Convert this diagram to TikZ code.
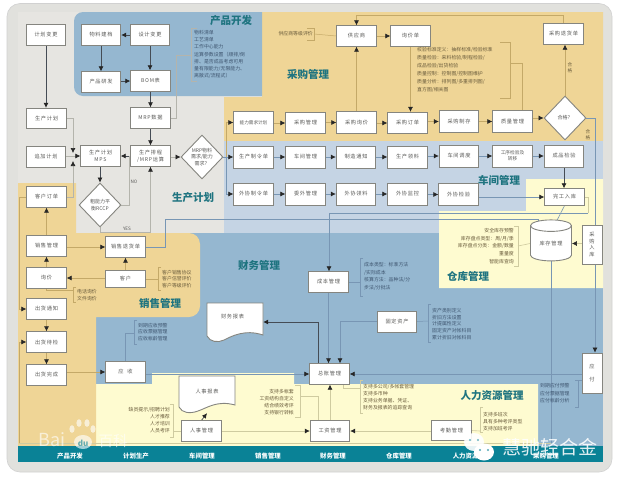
\documentclass[tikz,border=0pt]{standalone}
\usepackage{fontspec}
\usetikzlibrary{arrows.meta,shapes.geometric}
\setmainfont{Noto Sans CJK SC}
\newfontfamily\trk[LetterSpace=14]{Noto Sans CJK SC}
\definecolor{panel}{HTML}{E1E1DD}
\definecolor{gry}{HTML}{E6E5E1}
\definecolor{org}{HTML}{EFD596}
\definecolor{blu}{HTML}{95B7D0}
\definecolor{lbl}{HTML}{C5D4E4}
\definecolor{yel}{HTML}{FEFBD0}
\definecolor{teal}{HTML}{0A8296}
\definecolor{ttl}{HTML}{1F7480}
\definecolor{lno}{HTML}{C4A968}
\definecolor{lng}{HTML}{B4B4AC}
\definecolor{lnb}{HTML}{7896B4}
\definecolor{lny}{HTML}{CFCBA0}
\definecolor{dkl}{HTML}{454C55}
\definecolor{nbd}{HTML}{85857F}
\definecolor{txt}{HTML}{5A5A58}
\definecolor{ntx}{HTML}{6A5C3C}
\definecolor{nbt}{HTML}{3F5670}
\pgfdeclarelayer{bg}\pgfdeclarelayer{lines}
\pgfsetlayers{bg,lines,main}
\tikzset{
  bx/.style={draw=nbd,line width=.9pt,fill=white,minimum width=39.5pt,minimum height=20.5pt,inner sep=0pt,align=center,text=txt,font=\trk\fontsize{5.2}{6.6}\selectfont},
  dia/.style={diamond,draw=nbd,line width=.9pt,fill=white,aspect=1,minimum width=42pt,minimum height=44pt,inner sep=0pt,align=center,text=txt,font=\fontsize{5}{6.6}\selectfont},
  ttlf/.style={text=ttl,font=\bfseries\fontsize{10.5}{12}\selectfont,inner sep=0pt},
  band/.style={text=white,font=\bfseries\fontsize{6.4}{8}\selectfont,inner sep=0pt},
  note/.style={text=ntx,inner sep=0pt,font=\fontsize{4.9}{7.2}\selectfont},
  notel/.style={note,align=left,anchor=west},
  noter/.style={note,align=right,anchor=east},
  tip/.style={-{Latex[length=5pt,width=5pt,color=black!85]}},
  dk/.style={draw=dkl,line width=.7pt,tip},
  lo/.style={draw=lno,line width=.6pt,tip},
  lg/.style={draw=lng,line width=.6pt,tip},
  lb/.style={draw=lnb,line width=.6pt,tip},
  ly/.style={draw=lny,line width=.6pt,tip},
  bo/.style={draw=lno,line width=.5pt},
  bg/.style={draw=lng,line width=.5pt},
  bb/.style={draw=lnb,line width=.5pt},
  by/.style={draw=lny,line width=.6pt},
}
\begin{document}
\begin{tikzpicture}[x=1pt,y=-1pt]
\useasboundingbox (0,0) rectangle (620,480);
\begin{pgfonlayer}{bg}
\fill[white] (0,0) rectangle (620,480);
\fill[panel,draw=black!18,line width=.6pt,rounded corners=13pt] (7,3.5) rectangle (612,472);
\fill[gry] (18,12) rectangle (603,446);
\fill[org] (262,12) -- (603,12) -- (603,141) -- (224,141) -- (224,97) -- (262,97) -- cycle;
\fill[blu] (262,12) -- (262,96) [rounded corners=9pt] -- (74,96) -- (74,12) [sharp corners] -- cycle;
\fill[lbl] (224,141) rectangle (603,233);
\fill[blu] (190,233) rectangle (603,446);
\fill[blu] (96,300) rectangle (200,446);
\fill[yel] (526,179) -- (603,179) -- (603,288) -- (439,288) -- (439,211) -- (526,211) -- cycle;
\fill[yel] (96,384) -- (152,384) -- (152,373) -- (294,373) -- (294,384) -- (538,384) -- (538,446) -- (96,446) -- cycle;
\fill[org] (18,183) -- (76,183) -- (76,233) [rounded corners=11pt] -- (200,233) -- (200,317) [sharp corners] -- (96,317) -- (96,446) -- (18,446) -- cycle;
\fill[teal] (18,446) rectangle (603,462);
\end{pgfonlayer}
% titles
\node[ttlf] (t1) at (231,21) {产品开发};
\node[ttlf] (t2) at (308,74) {采购管理};
\node[ttlf] (t3) at (193,198) {生产计划};
\node[ttlf] (t4) at (499,180) {车间管理};
\node[ttlf] (t5) at (259,265) {财务管理};
\node[ttlf] (t6) at (160,303) {销售管理};
\node[ttlf] (t7) at (468,276) {仓库管理};
\node[ttlf] (t8) at (492,395) {人力资源管理};
% bottom band
\node[band] (b1) at (70,456) {产品开发};
\node[band] (b2) at (136,456) {计划生产};
\node[band] (b3) at (202,456) {车间管理};
\node[band] (b4) at (268,456) {销售管理};
\node[band] (b5) at (333,456) {财务管理};
\node[band] (b6) at (399,456) {仓库管理};
\node[band] (b7) at (472,456) {人力资源管理};
\node[band] (b8) at (546,456) {采购管理};
% nodes
\node[bx] (jhbg) at (46,35) {计划变更};
\node[bx] (wljd) at (101,35) {物料建档};
\node[bx] (sjbg) at (150,35) {设计变更};
\node[bx] (cpyf) at (101,82) {产品研发};
\node[bx] (bom) at (150.5,81) {BOM表};
\node[bx] (mrp) at (150.5,118) {MRP数据};
\node[bx] (scjh) at (46.5,118.5) {生产计划};
\node[bx] (zjjh) at (46,157) {追加计划};
\node[bx] (mps) at (100.5,156) {生产计划\\MPS};
\node[bx] (pc) at (150.5,156) {生产排程\\/MRP运算};
\node[dia] (dmrp) at (202,157) {MRP物料\\需求/能力\\需求？};
\node[dia] (drccp) at (100,205) {粗能力平\\衡RCCP};
\node[bx] (khdd) at (46.5,197) {客户订单};
\node[bx] (xsgl) at (46.5,246) {销售管理};
\node[bx] (xsth) at (125.5,247) {销售退货单};
\node[bx] (xj) at (46.5,278) {询价};
\node[bx,minimum height=16.5pt] (kh) at (125.5,279) {客户};
\node[bx] (chtz) at (46.5,309) {出货通知};
\node[bx] (chdj) at (46.5,342) {出货待检};
\node[bx] (chwc) at (46.5,375) {出货完成};
\node[bx] (ys) at (125.5,372) {应\ \ 收};
\node[bx,minimum height=21.5pt,font=\fontsize{4.6}{6}\selectfont] (nlxq) at (253.5,122.5) {能力需求计划};
\node[bx,minimum height=21.5pt] (cggl) at (305.5,123) {采购管理};
\node[bx,minimum height=21.5pt] (cgxj) at (356.5,122.5) {采购询价};
\node[bx,minimum height=21.5pt] (cgdd) at (407.5,123) {采购订单};
\node[bx,minimum height=21.5pt] (cgzc) at (459,121.5) {采购制存};
\node[bx,minimum height=21.5pt] (zlgl) at (512.5,121.5) {质量管理};
\node[dia] (dhg) at (565,118) {合格？};
\node[bx,minimum height=22pt] (sczl) at (253.5,157) {生产制令单};
\node[bx,minimum height=22pt] (cjgl) at (305.5,157) {车间管理};
\node[bx,minimum height=22pt] (zztz) at (356,157) {制造通知};
\node[bx,minimum height=22pt] (scll) at (407.5,157) {生产领料};
\node[bx,minimum height=22pt] (cjdd) at (459,156) {车间调度};
\node[bx,minimum height=22pt,font=\fontsize{4.7}{5.8}\selectfont] (gxjy) at (512.5,156) {工序检验及\\转移};
\node[bx,minimum height=22pt] (cpjy) at (564,156) {成品检验};
\node[bx,minimum height=22pt] (wxzl) at (253.5,194) {外协制令单};
\node[bx,minimum height=22pt] (wwgl) at (305.5,194) {委外管理};
\node[bx,minimum height=22pt] (wxll) at (356,194) {外协领料};
\node[bx,minimum height=22pt] (wxjk) at (407.5,194) {外协监控};
\node[bx,minimum height=21.5pt] (wxjy) at (458.5,194.5) {外协检验};
\node[bx,minimum height=16.5pt] (wgrk) at (564.5,197) {完工入库};
\node[bx] (gys) at (356.5,36) {供应商};
\node[bx] (xjd) at (410.5,36) {询价单};
\node[bx] (cgth) at (563.5,34) {采购退货单};
\node[cylinder,shape border rotate=90,aspect=.5,draw=nbd,line width=.9pt,fill=white,minimum width=41pt,minimum height=41pt,inner sep=0pt,text=txt,font=\trk\fontsize{5.2}{6.6}\selectfont] (kc) at (551,243.5) {\raisebox{-5pt}{库存管理}};
\node[bx,minimum width=20pt,minimum height=39pt] (cgrk) at (592,244.5) {采\\购\\入\\库};
\node[bx] (cbgl) at (328.5,282) {成本管理};
\node[bx,minimum height=21pt] (gdzc) at (397,321.5) {固定资产};
\node[bx] (zzgl) at (329.5,374) {总账管理};
\node[bx] (rsgl) at (201.5,431) {人事管理};
\node[bx] (gzgl) at (330,431) {工资管理};
\node[bx,minimum height=19.5pt] (kqgl) at (451.5,430.5) {考勤管理};
\node[bx,minimum width=20pt,minimum height=40pt] (yf) at (592,373) {应\\[6pt]付};
% documents
\node[minimum width=56pt,minimum height=39pt,inner sep=0pt] (cwbb) at (235,322.5) {};
\draw[draw=nbd,line width=.9pt,fill=white] (207,303) -- (263,303) -- (263,335) .. controls (245,329) and (232,336) .. (224,340) .. controls (218,343) and (210,342) .. (207,336) -- cycle;
\node[text=txt,inner sep=0pt,font=\trk\fontsize{5.2}{6.6}\selectfont] (cwbbt) at (232.5,317) {财务报表};
\node[minimum width=56pt,minimum height=37pt,inner sep=0pt] (rsbb) at (207,394.5) {};
\draw[draw=nbd,line width=.9pt,fill=white] (179,376) -- (235,376) -- (235,405) .. controls (217,400) and (207,408) .. (198,411) .. controls (190,414) and (182,413) .. (179,407) -- cycle;
\node[text=txt,inner sep=0pt,font=\trk\fontsize{5.2}{6.6}\selectfont] (rsbbt) at (207,392) {人事报表};
% notes
\node[notel,text=nbt] (n1) at (194,54.5) {物料清单\\工艺清单\\工作中心能力\\运算参数设置（顺排/倒\\排、是否成品考虑可用\\量有限能力/无限能力、\\离散式/流程式）};
\node[note,anchor=east] (n2) at (313,34) {供应商等级评价};
\node[notel,font=\fontsize{4.9}{8}\selectfont] (n3) at (417,69.5) {校验标准定义：抽样标准/检验标准\\质量检验：来料检验/制程检验/\\成品检验/出货检验\\质量控制：控制图/控制图维护\\质量分析：排列图/多重排列图/\\直方图/相关图};
\node[notel,font=\fontsize{4.9}{6.6}\selectfont] (n4) at (162,279) {客户销售协议\\客户信誉评价\\客户等级评价};
\node[notel,font=\fontsize{4.9}{7}\selectfont] (n5) at (77,295.5) {电话询价\\文件询价};
\node[notel,text=nbt,font=\fontsize{4.9}{6.6}\selectfont] (n6) at (138,332) {到期应收预警\\应收票据管理\\应收帐龄管理};
\node[noter,font=\fontsize{4.9}{7.6}\selectfont] (n7) at (514,246) {安全库存预警\\库存盘点类型：周/月/季\\库存盘点分类：金额/数量\\重量度\\智能库查询};
\node[notel,text=nbt,font=\fontsize{4.9}{7.6}\selectfont] (n8) at (364,276.5) {成本类型：标准方法\\/实际成本\\核算方法：品种法/分\\步法/分批法};
\node[notel,text=nbt,font=\fontsize{4.9}{6.8}\selectfont] (n9) at (432,324) {资产类别定义\\折旧方法设置\\计提属性定义\\固定资产对帐科目\\累计折旧对帐科目};
\node[notel,font=\fontsize{4.9}{6.8}\selectfont] (n10) at (363,397) {支持多公司/多帐套管理\\支持多币种\\支持业务单据、凭证、\\财务及报表的追踪查询};
\node[noter,font=\fontsize{4.9}{6.8}\selectfont] (n11) at (294,402) {支持多帐套\\工资结构自定义\\结合绩效考评\\支持银行转帐};
\node[noter,font=\fontsize{4.9}{7}\selectfont] (n12) at (170,420.5) {缺员提示/招聘计划\\人才推荐\\人才培训\\人员考评};
\node[notel,font=\fontsize{4.9}{6.8}\selectfont] (n13) at (483,421.5) {支持多班次\\具有多种考评类型\\支持加班考评};
\node[notel,text=nbt,font=\fontsize{4.9}{7.4}\selectfont] (n14) at (540,393.5) {到期应付预警\\应付票据管理\\应付帐龄分析};
\node[note,text=txt,font=\fontsize{4.6}{5.6}\selectfont] (no) at (134,182) {NO};
\node[note,text=txt,font=\fontsize{4.6}{5.6}\selectfont] (yes) at (127,228.5) {YES};
\node[note,align=center,font=\fontsize{4.6}{5.6}\selectfont] (hg1) at (570,68) {合\\格};
\node[note,align=center,font=\fontsize{4.6}{5.6}\selectfont] (hg2) at (588,135) {合\\格};
% helper coordinates
\coordinate (jdu) at (73,153);
\coordinate (jdd) at (73,161);
\coordinate (no1) at (129,156);
\coordinate (yb) at (100,232);
\coordinate (mb) at (176,55);
\coordinate (mb2) at (191,55);
\coordinate (fork) at (226,157);
\coordinate (q1) at (522,63);
\coordinate (top) at (356.5,15);
\coordinate (pay) at (595,118);
\coordinate (c1) at (538,232);
\coordinate (c2) at (551,232);
\coordinate (r1) at (165,219);
\coordinate (r2) at (588,213);
\coordinate (r3) at (329,213);
\coordinate (low) at (551,443);
\coordinate (lowl) at (19,443);
\coordinate (hr1) at (318,396);
\coordinate (gl1) at (318,322);
\coordinate (gl2) at (340,322);
\coordinate (gl3) at (343,388);
\coordinate (ysb) at (125.5,333);
\coordinate (xjb) at (46.5,290);
\begin{pgfonlayer}{lines}
% product development and planning
\draw[dk] (jhbg.south) -- (jhbg.south |- scjh.north);
\draw[dk] (sjbg) -- (wljd);
\draw[dk] (wljd) -- (cpyf);
\draw[dk] (sjbg.south) -- (sjbg.south |- bom.north);
\draw[dk] (cpyf.east |- bom.west) -- (bom.west);
\draw[dk] (bom) -- (mrp);
\draw[dk] (mrp) -- (pc);
\draw[dk] (pc) -- (mps);
\draw[dk] (mps.south -| drccp.north) -- (drccp.north);
\draw[lg] (scjh.east) -| (jdu);
\draw[lg] (zjjh.east |- mps.west) -- (mps.west);
\draw[lg] (khdd.east) -| (jdd);
\draw[bg] (drccp.east) -| (no1);
\draw[lg] (drccp.south) -- (yb) -| (pc.south);
\draw[bg] (mrp.east) -| (mb) -- (mb2);
\draw[bg] (197,28) -- (191,28) -- (191,81) -- (197,81);
\draw[lg] (pc.east |- dmrp.west) -- (dmrp.west);
% fork
\draw[lo] (fork) |- (nlxq.west);
\draw[lb] (fork) |- (wxzl.west);
\draw[lb] (dmrp.east) -- (sczl.west);
% rows: each connector is horizontal, at the height of its target
\foreach \a/\b in {nlxq/cggl,cggl/cgxj,cgxj/cgdd,cgdd/cgzc,cgzc/zlgl,zlgl/dhg,gys/xjd}{\draw[lo] (\a.east |- \b.west) -- (\b.west);}
\foreach \a/\b in {sczl/cjgl,cjgl/zztz,zztz/scll,scll/cjdd,cjdd/gxjy,gxjy/cpjy,wxzl/wwgl,wwgl/wxll,wxll/wxjk,wxjk/wxjy,wxjy/wgrk}{\draw[lb] (\a.east |- \b.west) -- (\b.west);}
\draw[lo] (cgxj) -- (gys);
\draw[lo] (xjd.south) -- (cgdd.north -| xjd);
\draw[bo] (n2.east) ++(1,0) -- (gys.west);
\draw[bo] (307,28) -- (314,28) -- (314,40) -- (307,40);
\draw[bo] (zlgl.north -| q1) -- (q1) -- (510,63);
\draw[bo] (500,42) -- (510,42) -- (510,98) -- (500,98);
\draw[lo] (dhg.north) -- (dhg.north |- cgth.south);
\draw[bo] (cgth.north) |- (top);
\draw[lo] (top) -- (gys.north);
\draw[bb] (dhg.east) -- (pay);
\draw[lb] (pay) -- (yf.north -| pay);
\draw[dk] (cpjy.south) -- (wgrk.north -| cpjy.south);
\draw[by] (wgrk.east) -| (r2);
\draw[lnb,line width=.5pt,tip] (r2) -- (r3) -- (cbgl.north -| r3);
\draw[lnb,line width=.5pt,tip] (xsth.east) -| (r1) -- (538,219) -- (c1);
\draw[lb] (wgrk.south) -- (c2);
\draw[bb] (kc.south) -- (low);
\draw[by] (low) -- (lowl);
\draw[lo] (lowl) |- (chdj.west);
\draw[lo] (khdd.west) -| (19,309) -- (chtz.west);
\draw[bo] (lowl) -- (19,342);
\draw[ly] (cgrk.west |- kc.east) -- (kc.east);
\draw[by] (514,226) -- (518,226) -- (518,266) -- (514,266);
\draw[by] (518,246) -- (kc.west);
% sales
\draw[lo] (xsgl) -- (khdd);
\draw[lo] (xj) -- (xsgl);
\draw[lo] (kh.west |- xj.east) -- (xj.east);
\draw[lo] (kh) -- (xsth);
\draw[lo] (xsgl.east |- xsth.west) -- (xsth.west);
\draw[bo] (xj.south) -- (xjb) -- (73,290);
\draw[bo] (76,287) -- (73,287) -- (73,302) -- (76,302);
\draw[bo] (kh.east) -- (158,279);
\draw[bo] (161,267) -- (158,267) -- (158,290) -- (161,290);
\draw[lo] (chtz) -- (chdj);
\draw[lo] (chdj) -- (chwc);
\draw[lo] (chwc.east |- ys.west) -- (ys.west);
\draw[lb] (ys.east |- zzgl.west) -- (zzgl.west);
\draw[bb] (ys.north) -- (ysb) -- (134,333);
\draw[bb] (137,320) -- (134,320) -- (134,344) -- (137,344);
% finance
\draw[dk] (zzgl.north -| gl1) -- (gl1) -- (cwbb.east |- gl1);
\draw[lb] (cbgl) -- (zzgl.north -| cbgl);
\draw[lb] (gdzc.west) -| (zzgl.north -| gl2);
\draw[bb] (cbgl.east) -- (360,282);
\draw[bb] (363,258) -- (360,258) -- (360,296) -- (363,296);
\draw[bb] (gdzc.east) -- (428,321);
\draw[bb] (431,304) -- (428,304) -- (428,342) -- (431,342);
\draw[lb] (yf.west |- zzgl.east) -- (zzgl.east);
\draw[by] (zzgl.south -| gl3) -- (gl3) -- (360,388);
\draw[by] (363,380) -- (360,380) -- (360,413) -- (363,413);
\draw[bb] (575,380) -- (578,380) -- (578,407) -- (575,407);
\draw[bb] (578,380) -- (yf.west |- 0,380);
% HR
\draw[ly] (gzgl.north) -- (gzgl.north |- zzgl.south);
\draw[ly] (kqgl.west |- gzgl.east) -- (gzgl.east);
\draw[ly] (rsgl) -- (gzgl);
\draw[dk] (rsgl.north) -- (rsbb.south);
\draw[by] (rsgl.west) -- (173,431);
\draw[by] (170,404) -- (173,404) -- (173,437) -- (170,437);
\draw[by] (295,385) -- (300,385) -- (300,417) -- (295,417);
\draw[by] (300,396) -- (hr1) -- (gzgl.north -| hr1);
\draw[by] (kqgl.east) -- (480,431);
\draw[by] (483,407) -- (480,407) -- (480,432) -- (483,432);
\end{pgfonlayer}
% watermarks
\begin{scope}[opacity=.62]
\node[text=white,inner sep=0pt,font=\fontsize{18}{20}\selectfont] (wb1) at (52,440) {Bai};
\fill[white] (83,442) ellipse (9pt and 7pt);
\fill[white] (72,429) ellipse (2.6pt and 3.8pt);
\fill[white] (79,423) ellipse (2.6pt and 3.8pt);
\fill[white] (87,423) ellipse (2.6pt and 3.8pt);
\fill[white] (93,429) ellipse (2.6pt and 3.8pt);
\node[text=teal,inner sep=0pt,font=\bfseries\fontsize{8}{9}\selectfont] (wb2) at (83,443) {du};
\node[text=white,inner sep=0pt,font=\fontsize{14.5}{16}\selectfont] (wb3) at (113,441) {百科};
\end{scope}
\fill[white,opacity=.9] (474,442) ellipse (10pt and 9pt);
\fill[white] (484,452) ellipse (10pt and 8.5pt);
\fill[teal!60] (470,440) circle (1.1pt);
\fill[teal!60] (478,440) circle (1.1pt);
\fill[teal!70] (480,450) circle (1.1pt);
\fill[teal!70] (488,450) circle (1.1pt);
\node[text=white,opacity=.88,inner sep=0pt,font=\fontsize{19}{21}\selectfont] (wc) at (550,447) {慧驰轻合金};
\end{tikzpicture}
\end{document}
